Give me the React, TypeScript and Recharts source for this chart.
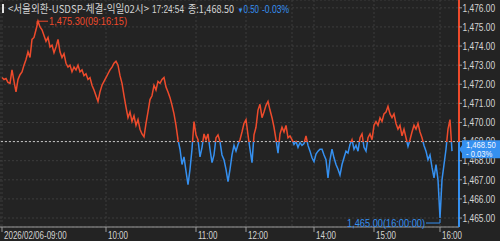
import { LineChart, Line, XAxis, YAxis, CartesianGrid, ReferenceLine, ReferenceDot } from 'recharts'

// USD/KRW intraday ticks, one value per ~2px slot, grouped by hour
const hour09 = [
  1472.35, 1472.25, 1472.3, 1472.1, 1472.05, 1472.75, 1472.15, 1471.6, 1472.25, 1472.5,
  1472.65, 1473.0, 1473.3, 1473.7, 1473.4, 1474.35, 1474.45, 1474.85, 1475.3, 1475.0,
  1474.85, 1474.55, 1474.25, 1474.45, 1473.95, 1474.05, 1473.65, 1473.95, 1474.35, 1473.7,
  1473.4, 1473.6, 1473.1, 1472.9, 1473.0, 1472.65, 1472.9, 1472.75, 1473.0, 1472.65,
  1472.75, 1472.45, 1472.55, 1472.25, 1472.35, 1471.95, 1471.7, 1471.4, 1471.1, 1471.6,
  1471.95, 1472.15,
]
const hour10 = [
  1472.35, 1472.55, 1472.75, 1472.9, 1473.1, 1473.2, 1473.0, 1472.45, 1472.05, 1471.4,
  1470.8, 1470.25, 1470.55, 1470.05, 1470.35, 1469.85, 1470.15, 1469.65, 1469.4, 1469.25,
  1469.95, 1470.55, 1471.2, 1471.4, 1471.95, 1471.7, 1472.15, 1472.05, 1472.25, 1472.35,
  1471.85, 1471.6, 1471.3, 1470.9, 1470.45, 1469.85, 1469.1, 1468.6, 1467.8, 1468.2,
  1467.45, 1466.75, 1467.55, 1468.6, 1470.05,
]
const hour11 = [
  1469.35, 1469.1, 1468.2, 1468.7, 1469.4, 1469.1, 1469.4, 1468.6, 1467.9, 1468.3,
  1469.2, 1469.35, 1469.0, 1468.3, 1468.05, 1467.55, 1466.9, 1467.55, 1468.3, 1468.8,
  1468.5, 1468.85, 1469.1, 1469.5, 1469.95,
]
const hour12 = [
  1470.15, 1469.35, 1468.6, 1467.9, 1469.35, 1469.75, 1470.65, 1470.95, 1470.25, 1470.55,
  1470.9, 1471.1, 1470.65, 1470.25, 1469.75, 1469.1, 1468.4, 1469.4, 1469.75, 1469.5,
  1469.85, 1469.2, 1469.3,
]
const hour13 = [
  1469.1, 1468.85, 1469.0, 1468.7, 1468.95, 1468.8, 1468.9, 1469.3, 1468.8, 1468.5,
  1468.15,
]
const hour14 = [
  1467.95, 1468.35, 1468.5, 1468.6, 1468.6, 1468.3, 1468.05, 1467.1, 1468.05, 1468.6,
  1468.15, 1467.8, 1467.55, 1467.25, 1467.8, 1468.15, 1468.5, 1468.4, 1468.85, 1469.1,
  1468.6, 1468.8, 1468.5, 1469.2, 1469.4, 1468.7, 1468.5, 1469.2, 1469.4, 1469.1,
]
const hour15 = [
  1469.85, 1470.05, 1469.85, 1470.25, 1470.05, 1470.45, 1470.55, 1470.85, 1470.45, 1470.25,
  1470.45, 1469.95, 1469.65, 1469.85, 1469.3, 1469.65, 1469.2, 1468.75, 1469.1, 1469.5,
  1469.85, 1469.65, 1469.95, 1469.5, 1469.2, 1468.8, 1468.5, 1468.05, 1468.3, 1467.65,
  1467.1, 1467.8, 1467.0,
]
const hour16 = [1465.0, 1467.0, 1467.8, 1468.6, 1469.65, 1470.15, 1468.5]

const hourSeries = [hour09, hour10, hour11, hour12, hour13, hour14, hour15, hour16]
const hourLabels = ['2026/02/06-09:00', '10:00', '11:00', '12:00', '13:00', '14:00', '15:00', '16:00']
const priceTicks = [1465, 1466, 1467, 1468, 1469, 1470, 1471, 1472, 1473, 1474, 1475, 1476]

const prevClose = 1469.0
const headerTitle = '<서울외환-USDSP-체결-익일02시>'
const headerTime = '17:24:54'
const headerClose = '종:1,468.50'
const headerChange = '▼0.50'
const headerPct = '-0.03%'
const highTime = '09:16:15'
const lowTime = '16:00:00'
const tagPct = '- 0.03%'

const W = 500
const H = 241
const X_AXIS_H = 14
const Y_AXIS_W = 41
const PLOT_W = W - Y_AXIS_W
const PLOT_H = H - X_AXIS_H
const Y_DOMAIN: [number, number] = [1464.53, 1476.41]
const X_DOMAIN: [number, number] = [-1, 228.5]

const UP = '#ee4a2b'
const DOWN = '#3590f0'
const TXT = '#d4d4d4'
const LATIN = '"Liberation Sans", Arial, sans-serif'
const KOREAN = '"Noto Sans CJK KR", "Noto Sans", sans-serif'

const hourStarts: number[] = []
const data: { i: number; price: number }[] = []
hourSeries.forEach((arr) => {
  hourStarts.push(data.length)
  arr.forEach((price) => data.push({ i: data.length, price }))
})

const fmt = (v: number) =>
  v.toLocaleString('en-US', { minimumFractionDigits: 2, maximumFractionDigits: 2 })

const prices = data.map((d) => d.price)
const hi = Math.max(...prices)
const lo = Math.min(...prices)
const hiIdx = prices.indexOf(hi)
const loIdx = prices.lastIndexOf(lo)
const lastPrice = prices[prices.length - 1]

const yOf = (v: number) => ((Y_DOMAIN[1] - v) / (Y_DOMAIN[1] - Y_DOMAIN[0])) * PLOT_H
const baseY = yOf(prevClose)
const split = baseY / H

// the terminal uses a narrow bitmap face; squeeze Liberation Sans to match
const Narrow = ({ x, y, size, sx, fill, anchor, children }: any) => (
  <text
    transform={`translate(${x},${y}) scale(${sx},1)`}
    fill={fill}
    fontSize={size}
    fontFamily={LATIN}
    textAnchor={anchor || 'start'}
  >
    {children}
  </text>
)

const XTick = ({ x, y, payload }: any) => {
  const k = hourStarts.indexOf(payload.value)
  const next = hourStarts[k + 1]
  // labels that would run into the next one are dropped
  if (next !== undefined && (next - payload.value) * 2 < 28) return null
  return (
    <g>
      <line x1={x} x2={x} y1={y} y2={y + 5} stroke="#9a9a9a" />
      <Narrow x={x + 2} y={y + 11.5} size={10} sx={0.8} fill={TXT}>
        {hourLabels[k]}
      </Narrow>
    </g>
  )
}

const YTick = ({ x, y, payload }: any) => (
  <g>
    <line x1={x} x2={x + 3} y1={y} y2={y} stroke="#9a9a9a" />
    <Narrow x={x + 3.5} y={y + 3.8} size={10.5} sx={0.8} fill={TXT}>
      {fmt(payload.value)}
    </Narrow>
  </g>
)

const HighMark = ({ cx, cy }: any) => (
  <g>
    <path d={`M${cx - 1},${cy + 3}L${cx - 1},${cy}L${cx + 10},${cy}`} stroke={UP} fill="none" />
    <Narrow x={cx + 11} y={cy + 4} size={11} sx={0.84} fill={UP}>
      {`${fmt(hi)}(${highTime})`}
    </Narrow>
  </g>
)

const LowMark = ({ cx, cy }: any) => (
  <g>
    <path d={`M${cx},${cy + 1}L${cx},${cy + 5}L${cx - 14},${cy + 5}`} stroke={DOWN} fill="none" />
    <Narrow x={cx - 15} y={cy + 8.5} size={11} sx={0.84} fill={DOWN} anchor="end">
      {`${fmt(lo)}(${lowTime})`}
    </Narrow>
  </g>
)

const Overlay = () => {
  const ty = yOf(lastPrice)
  const x0 = PLOT_W
  return (
    <svg width={W} height={H} style={{ position: 'absolute', left: 0, top: 0, pointerEvents: 'none' }}>
      <path
        d={`M${x0},${ty - 2}L${x0 + 3},${ty - 6}L${x0 + 3},${ty - 11}L${W},${ty - 11}L${W},${ty + 7}L${x0 + 3},${ty + 7}L${x0 + 3},${ty + 2}Z`}
        fill={DOWN}
      />
      <Narrow x={x0 + 7} y={ty - 3} size={9} sx={0.85} fill="#f2f6ff">
        {fmt(lastPrice)}
      </Narrow>
      <Narrow x={x0 + 7} y={ty + 5.5} size={9} sx={0.85} fill="#f2f6ff">
        {tagPct}
      </Narrow>
      <rect x={2} y={4} width={2} height={9} fill="#e2e2e2" />
      <text x={8} y={12.5} fontSize={11} fontFamily={KOREAN} fill={TXT} textLength={141} lengthAdjust="spacingAndGlyphs">
        {headerTitle}
      </text>
      <text x={152} y={12.5} fontSize={11} fontFamily={LATIN} fill={TXT} textLength={32} lengthAdjust="spacingAndGlyphs">
        {headerTime}
      </text>
      <text x={188} y={12.5} fontSize={11} fontFamily={KOREAN} fill={TXT} textLength={46} lengthAdjust="spacingAndGlyphs">
        {headerClose}
      </text>
      <text transform="translate(237.5,12.5) scale(0.76,1)" fontFamily={LATIN} fill={DOWN}>
        <tspan fontSize={8}>{headerChange.slice(0, 1)}</tspan>
        <tspan fontSize={10.5}>{headerChange.slice(1)}</tspan>
      </text>
      <text x={262} y={12.5} fontSize={11} fontFamily={LATIN} fill={DOWN} textLength={27} lengthAdjust="spacingAndGlyphs">
        {headerPct}
      </text>
    </svg>
  )
}

const App = () => {
  return (
    <div style={{ position: 'absolute', left: 0, top: 0, width: W, height: H, background: '#232323' }}>
      <LineChart width={W} height={H} data={data} margin={{ top: 0, right: 0, bottom: 0, left: 0 }}>
        <defs>
          <linearGradient id="split" x1="0" y1="0" x2="0" y2={H} gradientUnits="userSpaceOnUse">
            <stop offset={split} stopColor={UP} />
            <stop offset={split} stopColor={DOWN} />
          </linearGradient>
        </defs>
        <CartesianGrid stroke="#3d3d3d" strokeDasharray="2 2" />
        <XAxis
          dataKey="i"
          type="number"
          domain={X_DOMAIN}
          allowDataOverflow
          ticks={hourStarts}
          height={X_AXIS_H}
          tickSize={0}
          tickMargin={0}
          tickLine={false}
          axisLine={{ stroke: '#9a9a9a' }}
          tick={<XTick />}
          interval={0}
        />
        <YAxis
          orientation="right"
          domain={Y_DOMAIN}
          allowDataOverflow
          ticks={priceTicks}
          width={Y_AXIS_W}
          tickSize={0}
          tickMargin={0}
          tickLine={false}
          axisLine={{ stroke: 'url(#split)', strokeWidth: 2 }}
          tick={<YTick />}
          interval={0}
        />
        <ReferenceLine y={prevClose} stroke="#c4c4c4" strokeDasharray="2 2" />
        <Line
          type="linear"
          dataKey="price"
          stroke="url(#split)"
          strokeWidth={1.5}
          dot={false}
          activeDot={false}
          isAnimationActive={false}
        />
        <ReferenceDot x={hiIdx} y={hi} r={0} shape={<HighMark />} ifOverflow="visible" />
        <ReferenceDot x={loIdx} y={lo} r={0} shape={<LowMark />} ifOverflow="visible" />
      </LineChart>
      <Overlay />
    </div>
  )
}

export default App
